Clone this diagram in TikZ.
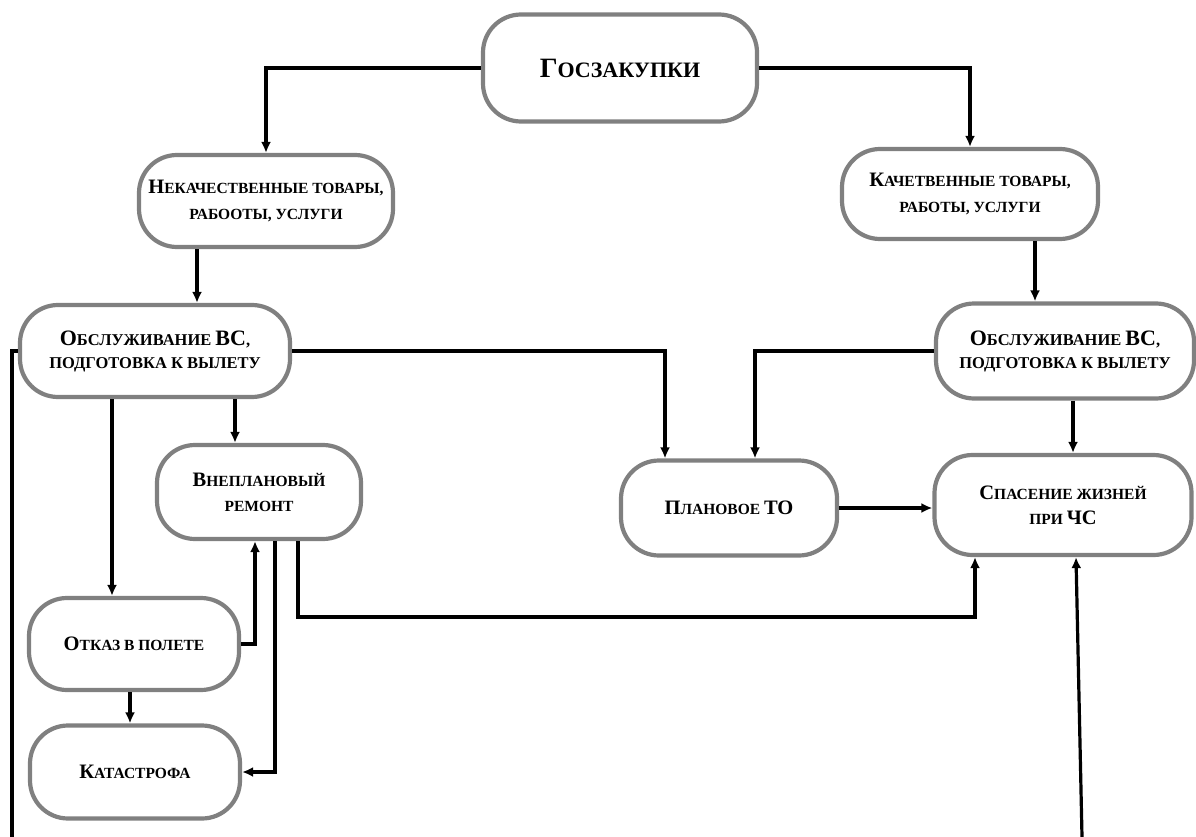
\documentclass[tikz,border=0pt]{standalone}
\usepackage{fontspec}
\setmainfont{Liberation Serif}
\usetikzlibrary{arrows.meta}
\newcommand\bigL[1]{{\fontsize{20.5}{20.5}\selectfont #1}}
\newcommand\bigO[1]{{\fontsize{22}{22}\selectfont #1}}
\newcommand\bigG[1]{{\fontsize{28}{28}\selectfont #1}}
\tikzset{
  box/.style={draw=black!50, line width=4.2pt, fill=white, rounded corners=38pt,
    align=center, inner sep=0pt, font=\bfseries\fontsize{15.5}{26}\selectfont},
  conn/.style={line width=3.2pt, black},
  arr/.style={conn, -{Latex[length=11pt,width=10pt]}}
}
\begin{document}
\begin{tikzpicture}[x=1pt,y=-1pt]
\useasboundingbox (0,0) rectangle (1196,837);
% nodes
\node[box, minimum width=274pt, minimum height=107pt, font=\bfseries\fontsize{22}{26}\selectfont] (goz) at (620,68) {\bigG{Г}ОСЗАКУПКИ};
\node[box, minimum width=254pt, minimum height=92pt] (nek) at (266,201) {\bigL{Н}ЕКАЧЕСТВЕННЫЕ ТОВАРЫ,\\РАБООТЫ, УСЛУГИ};
\node[box, minimum width=256pt, minimum height=90pt] (kach) at (970,194) {\bigL{К}АЧЕТВЕННЫЕ ТОВАРЫ,\\РАБОТЫ, УСЛУГИ};
\node[box, minimum width=270pt, minimum height=92pt, font=\bfseries\fontsize{16.5}{23}\selectfont] (obL) at (155,351) {\bigO{О}БСЛУЖИВАНИЕ \bigO{ВС},\\ПОДГОТОВКА К ВЫЛЕТУ};
\node[box, minimum width=258pt, minimum height=95pt, font=\bfseries\fontsize{16.5}{23}\selectfont] (obR) at (1065,351) {\bigO{О}БСЛУЖИВАНИЕ \bigO{ВС},\\ПОДГОТОВКА К ВЫЛЕТУ};
\node[box, minimum width=204pt, minimum height=94pt, font=\bfseries\fontsize{15.5}{25}\selectfont] (vn) at (259,492) {\bigL{В}НЕПЛАНОВЫЙ\\РЕМОНТ};
\node[box, minimum width=216pt, minimum height=95pt] (pl) at (729,508) {\bigL{П}ЛАНОВОЕ \bigL{ТО}};
\node[box, minimum width=257pt, minimum height=100pt, font=\bfseries\fontsize{15.5}{25}\selectfont] (sp) at (1063,505) {\bigL{С}ПАСЕНИЕ ЖИЗНЕЙ\\ПРИ \bigL{ЧС}};
\node[box, minimum width=210pt, minimum height=92pt] (ot) at (134,644) {\bigL{О}ТКАЗ В ПОЛЕТЕ};
\node[box, minimum width=210pt, minimum height=93pt] (ka) at (135,772) {\bigL{К}АТАСТРОФА};
% helper coordinates
\coordinate (x197) at (197,0);
\coordinate (x1035) at (1035,0);
\coordinate (x665) at (665,0);
\coordinate (x755) at (755,0);
\coordinate (x112) at (112,0);
\coordinate (x235) at (235,0);
\coordinate (x1073) at (1073,0);
\coordinate (x255) at (255,0);
\coordinate (x275) at (275,0);
\coordinate (x130) at (130,0);
\coordinate (v298) at (298,617);
\coordinate (k975) at (975,617);
\coordinate (bl) at (12,837);
\coordinate (br) at (1082,837);
\coordinate (x1076) at (1076,0);
% connectors
\draw[arr] (goz.west) -| (nek.north);
\draw[arr] (goz.east) -| (kach.north);
\draw[arr] (nek.south -| x197) -- (obL.north -| x197);
\draw[arr] (kach.south -| x1035) -- (obR.north -| x1035);
\draw[conn] (obL.west) -| (bl);
\draw[arr] (obL.east) -| (pl.north -| x665);
\draw[arr] (obR.west) -| (pl.north -| x755);
\draw[arr] (obL.south -| x112) -- (ot.north -| x112);
\draw[arr] (obL.south -| x235) -- (vn.north -| x235);
\draw[arr] (obR.south -| x1073) -- (sp.north -| x1073);
\draw[arr] (pl.east) -- (pl.east -| sp.west);
\draw[arr] (vn.south -| v298) -- (v298) -- (k975) -- (sp.south -| k975);
\draw[arr] (ot.east) -| (vn.south -| x255);
\draw[arr] (vn.south -| x275) |- (ka.east);
\draw[arr] (ot.south -| x130) -- (ka.north -| x130);
\draw[arr] (br) -- (sp.south -| x1076);
\end{tikzpicture}
\end{document}
